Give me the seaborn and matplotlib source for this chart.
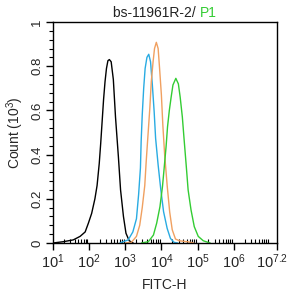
import matplotlib
matplotlib.use("Agg")
import matplotlib.pyplot as plt
import matplotlib.transforms as mtransforms
import seaborn as sns
import pandas as pd
import numpy as np
from matplotlib.ticker import FixedLocator, MultipleLocator

sns.set_theme(style="white")
plt.rcParams['font.family'] = ['Liberation Sans', 'DejaVu Sans']
plt.rcParams['mathtext.default'] = 'regular'

# x values are log10(FITC-H), y values are counts in 10^3
black_x = [1.0, 1.29, 1.56, 1.75, 1.89, 1.98, 2.07, 2.16, 2.22, 2.28, 2.32, 2.36, 2.40, 2.44, 2.48,
           2.52, 2.56, 2.61, 2.67, 2.73, 2.81, 2.87, 2.95, 3.02, 3.11, 3.22]
black_y = [0.0, 0.006, 0.014, 0.03, 0.05, 0.09, 0.134, 0.20, 0.26, 0.36, 0.45, 0.55, 0.65, 0.73, 0.79,
           0.825, 0.83, 0.82, 0.74, 0.57, 0.39, 0.24, 0.12, 0.044, 0.01, 0.0]

blue_x = [2.85, 3.08, 3.21, 3.31, 3.37, 3.42, 3.44, 3.47, 3.51, 3.55, 3.60, 3.65, 3.70, 3.75, 3.80,
          3.84, 3.91, 3.98, 4.06, 4.16, 4.25, 4.35, 4.45]
blue_y = [0.0, 0.014, 0.05, 0.11, 0.22, 0.34, 0.46, 0.58, 0.70, 0.79, 0.84, 0.854, 0.82, 0.715, 0.594,
          0.474, 0.353, 0.247, 0.142, 0.066, 0.021, 0.003, 0.0]

orange_x = [3.0, 3.17, 3.31, 3.40, 3.47, 3.54, 3.58, 3.63, 3.68, 3.72, 3.77, 3.81, 3.86, 3.91, 3.95,
            4.00, 4.04, 4.09, 4.16, 4.23, 4.30, 4.39, 4.50, 4.75, 4.90]
orange_y = [0.0, 0.003, 0.03, 0.08, 0.16, 0.26, 0.37, 0.49, 0.61, 0.73, 0.82, 0.88, 0.908, 0.88, 0.79,
            0.67, 0.534, 0.40, 0.26, 0.14, 0.06, 0.018, 0.01, 0.005, 0.0]

green_x = [3.45, 3.64, 3.78, 3.87, 3.96, 4.03, 4.08, 4.13, 4.17, 4.22, 4.27, 4.32, 4.40, 4.47, 4.52,
           4.58, 4.63, 4.69, 4.74, 4.82, 4.91, 5.02, 5.16, 5.35]
green_y = [0.0, 0.006, 0.036, 0.09, 0.164, 0.255, 0.345, 0.436, 0.526, 0.60, 0.66, 0.715, 0.745, 0.72, 0.66,
           0.57, 0.466, 0.345, 0.24, 0.15, 0.074, 0.03, 0.01, 0.0]

x_ticks = [1, 2, 3, 4, 5, 6, 7.2]
x_labels = ["$10^{1}$", "$10^{2}$", "$10^{3}$", "$10^{4}$", "$10^{5}$", "$10^{6}$", "$10^{7.2}$"]
y_ticks = [0, 0.2, 0.4, 0.6, 0.8, 1.0]
y_labels = ["0", "0.2", "0.4", "0.6", "0.8", "1"]

series = [
    ("black", black_x, black_y, "#000000"),
    ("blue", blue_x, blue_y, "#29ABE2"),
    ("orange", orange_x, orange_y, "#F0A060"),
    ("green", green_x, green_y, "#33CC33"),
]

frames = []
for name, xs, ys, _ in series:
    frames.append(pd.DataFrame({"x": xs, "y": ys, "s": name}))
df = pd.concat(frames, ignore_index=True)

fig = plt.figure(figsize=(2.9, 2.96), dpi=100)
ax = fig.add_axes([53/290, 53/296, 224/290, 221/296])

sns.lineplot(data=df, x="x", y="y", hue="s", sort=False,
             palette={n: c for n, _, _, c in series}, linewidth=1.0,
             legend=False, ax=ax)

ax.set_xlim(1, 7.2)
ax.set_ylim(0, 1)
ax.set_xticks(x_ticks)
ax.set_xticklabels(x_labels, fontsize=10.5)
ax.set_yticks(y_ticks)
ax.set_yticklabels(y_labels, fontsize=9.5, rotation=90, va="center")

minor_x = []
for d in range(1, 7):
    for m in range(2, 10):
        v = d + np.log10(m)
        if v < 7.2:
            minor_x.append(v)
ax.xaxis.set_minor_locator(FixedLocator(minor_x))
ax.yaxis.set_minor_locator(MultipleLocator(0.04))

ax.tick_params(axis="x", which="major", direction="out", length=5, width=1, color="black", pad=2, bottom=True)
ax.tick_params(axis="x", which="minor", direction="in", length=3, width=0.8, color="black", bottom=True)
ax.tick_params(axis="y", which="major", direction="out", length=5, width=1, color="black", pad=2, left=True)
ax.tick_params(axis="y", which="minor", direction="out", length=3, width=0.8, color="black", left=True)

# shift the last x tick label a bit left, as in the reference
last = ax.get_xticklabels()[-1]
last.set_transform(last.get_transform() + mtransforms.ScaledTranslation(-0.05, 0, fig.dpi_scale_trans))

for sp in ax.spines.values():
    sp.set_color("black")
    sp.set_linewidth(1.0)
    sp.set_visible(True)

ax.set_xlabel("FITC-H", fontsize=10, labelpad=5)
ax.set_ylabel("Count (10$^3$)", fontsize=10, labelpad=4)
ax.grid(False)

fig.text(0.69, 0.955, "bs-11961R-2/ ", ha="right", va="center", fontsize=10, color="#222222")
fig.text(0.69, 0.955, "P1", ha="left", va="center", fontsize=10, color="#33CC33")

fig.savefig("out.png", dpi=100)
